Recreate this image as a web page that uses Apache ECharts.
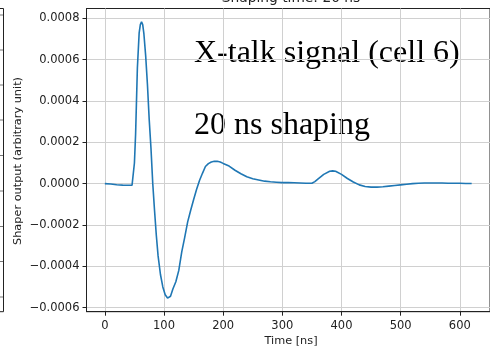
<!DOCTYPE html>
<html>
<head>
<meta charset="utf-8">
<script src="https://cdn.jsdelivr.net/npm/echarts@6/dist/echarts.min.js"></script>
<style>
  html, body { margin: 0; padding: 0; background: #fff; }
  #chart { width: 490px; height: 350px; }
</style>
</head>
<body>
<div id="chart"></div>
<script>
// time axis of the shaper response (ns)
const timeNs = [
  0, 10, 20, 30, 40, 46, 48, 50, 52, 55, 58, 60, 62, 64, 66, 69, 72, 75, 78, 81,
  84, 87, 90, 94, 98, 102, 106, 108, 111, 115, 120, 125, 130, 135, 140, 145, 150, 155, 160, 165,
  170, 175, 180, 185, 190, 195, 200, 210, 220, 230, 240, 250, 260, 270, 280, 290, 300, 310, 320, 330,
  340, 350, 355, 360, 370, 380, 385, 390, 400, 410, 420, 430, 440, 450, 460, 470, 480, 490, 500, 510,
  520, 530, 540, 550, 560, 570, 580, 590, 600, 610, 620
];
// shaper output, in units of 1e-4 (arbitrary unit)
const outputE4 = [
  0.0, -0.02, -0.05, -0.07, -0.08, -0.07, -0.05, 1.0, 2.4, 5.6, 7.3, 7.7, 7.83, 7.7, 7.26, 6.2, 4.8, 3.1, 1.7, 0.0,
  -1.3, -2.5, -3.5, -4.4, -5.0, -5.38, -5.54, -5.55, -5.45, -5.1, -4.75, -4.2, -3.3, -2.6, -1.85, -1.3, -0.78, -0.28, 0.15, 0.5,
  0.83, 0.97, 1.05, 1.08, 1.08, 1.05, 0.98, 0.85, 0.65, 0.48, 0.33, 0.24, 0.18, 0.12, 0.09, 0.07, 0.05, 0.05, 0.04, 0.03,
  0.02, 0.02, 0.1, 0.22, 0.45, 0.6, 0.62, 0.6, 0.45, 0.25, 0.08, -0.06, -0.14, -0.17, -0.17, -0.15, -0.12, -0.09, -0.06, -0.03,
  0.0, 0.02, 0.03, 0.03, 0.03, 0.03, 0.02, 0.02, 0.02, 0.01, 0.01
];
const xTicks = [0, 100, 200, 300, 400, 500, 600];
const yTicks = [-0.0006, -0.0004, -0.0002, 0, 0.0002, 0.0004, 0.0006, 0.0008];

const chart = echarts.init(document.getElementById("chart"), null, { renderer: "canvas" });

const tickFont = { fontFamily: "DejaVu Sans", fontSize: 11.5, color: "#222" };
const axisColor = "#222";
const gridColor = "#d0d0d0";

const fmtY = (v) => {
  const s = Math.abs(v) < 1e-12 ? "0.0000" : v.toFixed(4);
  return s.replace("-", "\u2212");
};

// stub of the neighbouring panel cut off at the left edge
const neighbour = [
  { type: "rect", shape: { x: -20, y: 8.5, width: 23.5, height: 303.2 }, style: { fill: "none", stroke: axisColor, lineWidth: 1 }, silent: true }
];
[15, 50, 85, 120, 155.5, 191, 226.5, 261.5, 297].forEach((y) => {
  neighbour.push({ type: "line", shape: { x1: 0, y1: y, x2: 3, y2: y }, style: { stroke: "#777", lineWidth: 1 }, silent: true });
});

chart.setOption({
  animation: false,
  grid: {
    left: 86.5,
    right: -6,
    top: 8.5,
    bottom: 38.3,
    show: true,
    borderColor: axisColor,
    borderWidth: 1,
    backgroundColor: "transparent"
  },
  xAxis: {
    type: "value",
    min: -31,
    max: 651,
    axisLine: { show: true, onZero: false, lineStyle: { color: axisColor, width: 1 } },
    axisTick: { show: true, inside: false, length: 4, customValues: xTicks, lineStyle: { color: axisColor } },
    axisLabel: { ...tickFont, margin: 8, customValues: xTicks, formatter: (v) => String(v) },
    splitLine: { show: true, lineStyle: { color: gridColor, width: 1 } }
  },
  yAxis: {
    type: "value",
    min: -0.00062,
    max: 0.000848,
    axisLine: { show: true, onZero: false, lineStyle: { color: axisColor, width: 1 } },
    axisTick: { show: true, inside: false, length: 4, customValues: yTicks, lineStyle: { color: axisColor } },
    axisLabel: { ...tickFont, margin: 7, customValues: yTicks, formatter: fmtY },
    splitLine: { show: true, lineStyle: { color: gridColor, width: 1 } }
  },
  series: [
    {
      type: "line",
      data: timeNs.map((t, i) => [t, outputE4[i] * 1e-4]),
      showSymbol: false,
      smooth: false,
      lineStyle: { color: "#1f77b4", width: 1.6 },
      itemStyle: { color: "#1f77b4" }
    }
  ],
  graphic: neighbour.concat([
    { type: "text", x: 291, y: -8.5, silent: true,
      style: { text: "Shaping time: 20 ns", font: "13.8px 'DejaVu Sans'", fill: "#222", align: "center", verticalAlign: "top" } },
    { type: "text", x: 291, y: 341.5, silent: true,
      style: { text: "Time [ns]", font: "11.3px 'DejaVu Sans'", fill: "#222", align: "center", verticalAlign: "middle" } },
    { type: "text", x: 18, y: 161, rotation: Math.PI / 2, silent: true,
      style: { text: "Shaper output (arbitrary unit)", font: "11.3px 'DejaVu Sans'", fill: "#222", align: "center", verticalAlign: "middle" } },
    { type: "text", x: 194, y: 37.6, silent: true,
      style: { text: "X-talk signal (cell 6)", font: "32px 'Liberation Serif'", fill: "#000", align: "left", verticalAlign: "top" } },
    { type: "text", x: 194, y: 109.4, silent: true,
      style: { text: "20 ns shaping", font: "32px 'Liberation Serif'", fill: "#000", align: "left", verticalAlign: "top" } }
  ])
});
</script>
</body>
</html>
